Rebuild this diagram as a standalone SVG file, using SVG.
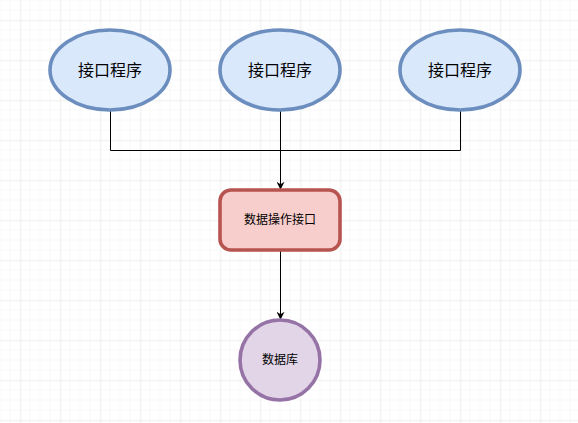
<svg xmlns="http://www.w3.org/2000/svg" width="578" height="423" viewBox="0 0 578 423">
<defs>
<pattern id="minor" width="10" height="10" patternUnits="userSpaceOnUse" x="0" y="0">
<path d="M10 0V10M0 10H10" fill="none" stroke="#f3f3f3" stroke-width="1"/>
</pattern>
<pattern id="major" width="40" height="40" patternUnits="userSpaceOnUse" x="20.5" y="20.5">
<rect width="40" height="40" fill="url(#minor)"/>
<path d="M0 0V40M0 0H40" fill="none" stroke="#e6e6e6" stroke-width="1"/>
</pattern>
<marker id="arr" viewBox="0 0 10 10" refX="9" refY="5" markerWidth="8" markerHeight="8" markerUnits="userSpaceOnUse" orient="auto">
<path d="M0 0L10 5L0 10L3 5Z" fill="#000"/>
</marker>
<style>
.ell{fill:#dae8fc;stroke:#6c8ebf;stroke-width:3.6}
.rect{fill:#f8cecc;stroke:#b85450;stroke-width:3.6}
.db{fill:#e1d5e7;stroke:#9673a6;stroke-width:3.6}
.t{font-family:"Liberation Sans","Noto Sans CJK SC",sans-serif;fill:#000;text-anchor:middle;dominant-baseline:central}
.big{font-size:16px}
.small{font-size:12px}
.ln{fill:none;stroke:#000;stroke-width:1}
</style>
</defs>
<rect width="578" height="423" fill="#fff"/>
<rect width="578" height="423" fill="url(#major)"/>
<g id="connectors">
<path class="ln" d="M110.5 110V150.5H460.5V110"/>
<path class="ln" d="M280.5 110V189" marker-end="url(#arr)"/>
<path class="ln" d="M280.5 250V319" marker-end="url(#arr)"/>
</g>
<g id="app1"><ellipse class="ell" cx="110" cy="70" rx="60" ry="40"/><text class="t big" x="110" y="70">接口程序</text></g>
<g id="app2"><ellipse class="ell" cx="280" cy="70" rx="60" ry="40"/><text class="t big" x="280" y="70">接口程序</text></g>
<g id="app3"><ellipse class="ell" cx="460" cy="70" rx="60" ry="40"/><text class="t big" x="460" y="70">接口程序</text></g>
<g id="api"><rect class="rect" x="220" y="190" width="120" height="60" rx="11"/><text class="t small" x="280" y="220">数据操作接口</text></g>
<g id="db"><circle class="db" cx="280" cy="360" r="40"/><text class="t small" x="280" y="360">数据库</text></g>
</svg>
